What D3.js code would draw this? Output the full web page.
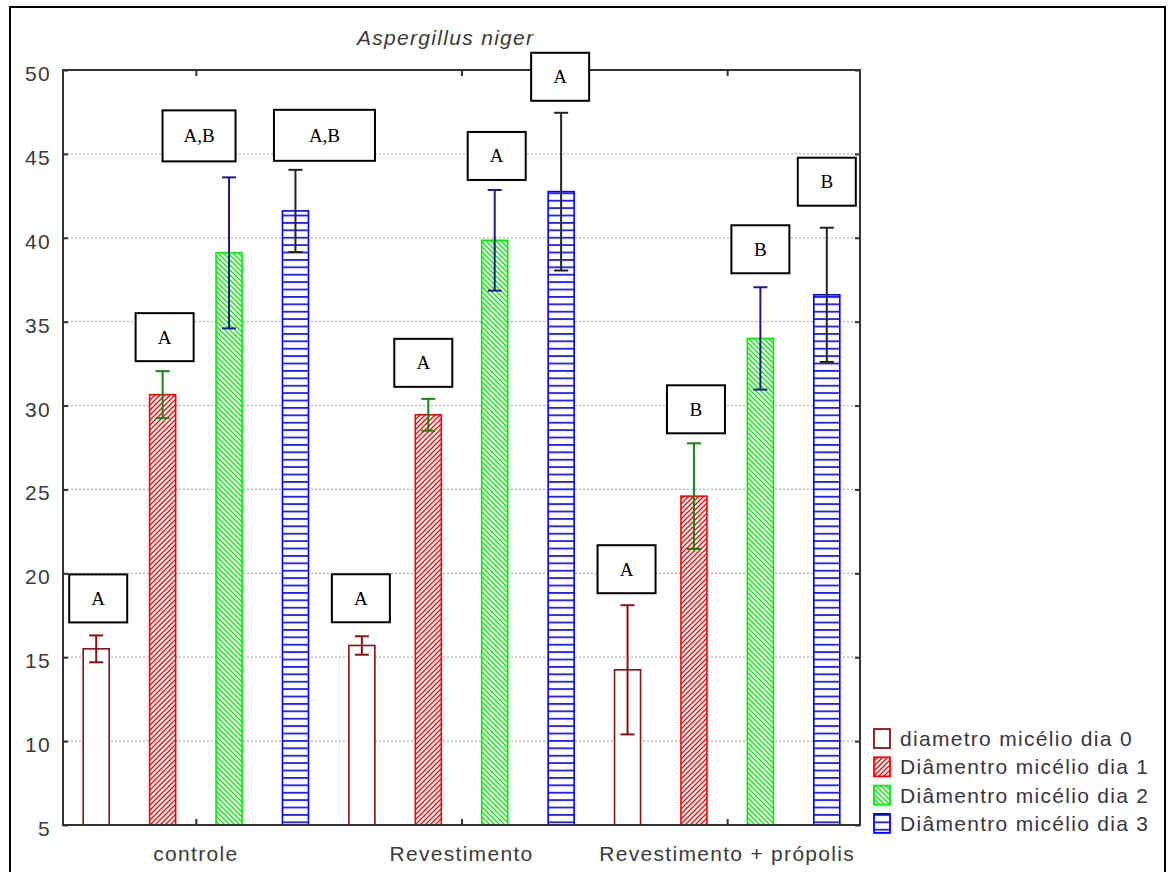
<!DOCTYPE html>
<html>
<head>
<meta charset="utf-8">
<script src="https://cdn.jsdelivr.net/npm/d3@7"></script>
<style>
  html, body { margin: 0; padding: 0; background: #fff; }
  svg { display: block; }
  .sans { font-family: "Liberation Sans", Arial, sans-serif; letter-spacing: 1.3px; }
</style>
</head>
<body>
<svg id="chart" width="1170" height="872"></svg>
<script>
// Mycelium diameter (mean ± deviation) by treatment and day
const categories = ["controle", "Revestimento", "Revestimento + própolis"];
const seriesNames = ["diametro micélio dia 0", "Diâmentro micélio dia 1", "Diâmentro micélio dia 2", "Diâmentro micélio dia 3"];

const dia0 = [15.5, 15.7, 14.25];
const dia1 = [30.65, 29.45, 24.6];
const dia2 = [39.1, 39.85, 34.0];
const dia3 = [41.6, 42.75, 36.6];

const err0 = [0.8, 0.55, 3.85];
const err1 = [1.4, 0.95, 3.15];
const err2 = [4.5, 3.0, 3.05];
const err3 = [2.45, 4.7, 4.0];

// significance letters per bar
const letters0 = ["A", "A", "A"];
const letters1 = ["A", "A", "B"];
const letters2 = ["A,B", "A", "B"];
const letters3 = ["A,B", "A", "B"];

const yTicks = [5, 10, 15, 20, 25, 30, 35, 40, 45, 50];
const titleText = "Aspergillus niger";

// ---- styling / layout ----
const seriesValues = [dia0, dia1, dia2, dia3];
const seriesErrors = [err0, err1, err2, err3];
const seriesLetters = [letters0, letters1, letters2, letters3];
const strokeColors = ["#8b1010", "#ff0000", "#00ee00", "#0000ff"];
const errorColors = ["#8b1010", "#118811", "#1a1a8a", "#222222"];
const fills = ["#ffffff", "url(#hatchRed)", "url(#hatchGreen)", "url(#hatchBlue)"];

// letter-box placement: [dx from bar centre, gap above error cap, box width], per series then category
const boxLayout = [
  [[2, 13, 58], [-1, 14, 58], [-1, 12, 58]],
  [[2, 10, 58], [-5, 12, 58], [2, 10, 58]],
  [[-30, 16, 73], [2, 10, 58], [0, 14, 58]],
  [[29, 9, 101], [-1, 12, 58], [0, 22, 58]]
];

const plot = { left: 63, right: 860, top: 70, bottom: 825 };
const svg = d3.select("#chart");

// patterns
const defs = svg.append("defs");
function hatch(id, color, dir) {
  const p = defs.append("pattern").attr("id", id)
    .attr("patternUnits", "userSpaceOnUse").attr("width", 5).attr("height", 5);
  p.append("rect").attr("width", 5).attr("height", 5).attr("fill", "#fff");
  const lines = dir > 0
    ? [[0, 5, 5, 0], [-1, 1, 1, -1], [4, 6, 6, 4]]
    : [[0, 0, 5, 5], [-1, 4, 1, 6], [4, -1, 6, 1]];
  lines.forEach(l => p.append("line").attr("x1", l[0]).attr("y1", l[1]).attr("x2", l[2]).attr("y2", l[3])
    .attr("stroke", color).attr("stroke-width", 1.3));
}
hatch("hatchRed", "#ff0000", 1);
hatch("hatchGreen", "#00ee00", -1);
const pb = defs.append("pattern").attr("id", "hatchBlue")
  .attr("patternUnits", "userSpaceOnUse").attr("width", 10).attr("height", 7.4);
pb.append("rect").attr("width", 10).attr("height", 7.4).attr("fill", "#fff");
pb.append("line").attr("x1", 0).attr("x2", 10).attr("y1", 0.9).attr("y2", 0.9)
  .attr("stroke", "#0000ff").attr("stroke-width", 1.6);

// outer frame
svg.append("rect").attr("x", 10).attr("y", 7).attr("width", 1155).attr("height", 880)
  .attr("fill", "none").attr("stroke", "#000").attr("stroke-width", 2);

// scales
const x0 = d3.scaleBand().domain(categories).range([plot.left, plot.right]).padding(0);
const x1 = d3.scaleBand().domain(d3.range(4)).range([0, x0.bandwidth()]).padding(0);
const y = d3.scaleLinear().domain([5, 50]).range([plot.bottom, plot.top]);
const barW = 26;

// grid
svg.append("g").selectAll("line").data(yTicks.filter(t => t > 5 && t < 50)).join("line")
  .attr("x1", plot.left).attr("x2", plot.right)
  .attr("y1", d => y(d)).attr("y2", d => y(d))
  .attr("stroke", "#b4b4b4").attr("stroke-width", 1.3).attr("stroke-dasharray", "2,2");

// bars
const bars = [];
seriesValues.forEach((vals, s) => vals.forEach((v, c) => bars.push({
  s, c, v, e: seriesErrors[s][c], letter: seriesLetters[s][c],
  cx: x0(categories[c]) + x1(s) + x1.bandwidth() / 2
})));

svg.append("g").selectAll("rect").data(bars).join("rect")
  .attr("x", d => d.cx - barW / 2).attr("width", barW)
  .attr("y", d => y(d.v)).attr("height", d => y(5) - y(d.v))
  .attr("fill", d => fills[d.s]).attr("stroke", d => strokeColors[d.s]).attr("stroke-width", 1.6);

// axes frame with inward ticks
const axisColor = "#333";
const leftAxis = d3.axisLeft(y).tickValues(yTicks).tickSize(-5).tickFormat("");
const rightAxis = d3.axisRight(y).tickValues(yTicks).tickSize(-5).tickFormat("");
const catCenter = d => x0(d) + x0.bandwidth() / 2;
const xPos = d3.scalePoint().domain(categories).range([catCenter(categories[0]), catCenter(categories[2])]);
const bottomAxis = d3.axisBottom(xPos).tickSize(-6).tickFormat("");
const topAxis = d3.axisTop(xPos).tickSize(-6).tickFormat("");
function styleAxis(g) {
  g.selectAll("path,line").attr("stroke", axisColor).attr("stroke-width", 2);
  g.select(".domain").attr("d", null);
}
svg.append("g").attr("transform", `translate(${plot.left},0)`).call(leftAxis).call(styleAxis);
svg.append("g").attr("transform", `translate(${plot.right},0)`).call(rightAxis).call(styleAxis);
svg.append("g").attr("transform", `translate(0,${plot.bottom})`).call(bottomAxis).call(styleAxis);
svg.append("g").attr("transform", `translate(0,${plot.top})`).call(topAxis).call(styleAxis);
svg.append("rect").attr("x", plot.left).attr("y", plot.top)
  .attr("width", plot.right - plot.left).attr("height", plot.bottom - plot.top)
  .attr("fill", "none").attr("stroke", axisColor).attr("stroke-width", 2);

// y tick labels
svg.append("g").selectAll("text").data(yTicks).join("text")
  .attr("class", "sans").attr("x", 51).attr("y", d => y(d) + 11)
  .attr("text-anchor", "end").attr("font-size", 21).attr("fill", "#3a3a3a")
  .text(d => d);

// category labels
svg.append("g").selectAll("text").data(categories).join("text")
  .attr("class", "sans").attr("x", d => catCenter(d)).attr("y", 861)
  .attr("text-anchor", "middle").attr("font-size", 21).attr("fill", "#3a3a3a")
  .text(d => d);

// title
svg.append("text").attr("class", "sans").attr("x", 357).attr("y", 45)
  .attr("font-size", 21).attr("font-style", "italic").attr("fill", "#3a3a3a")
  .text(titleText);

// error bars
const eg = svg.append("g");
bars.forEach(d => {
  const col = errorColors[d.s];
  const yt = y(d.v + d.e), yb = y(d.v - d.e);
  eg.append("line").attr("x1", d.cx).attr("x2", d.cx).attr("y1", yt).attr("y2", yb)
    .attr("stroke", col).attr("stroke-width", 2);
  [yt, yb].forEach(yy => eg.append("line").attr("x1", d.cx - 7).attr("x2", d.cx + 7)
    .attr("y1", yy).attr("y2", yy).attr("stroke", col).attr("stroke-width", 2));
});

// letter boxes
const bg = svg.append("g");
bars.forEach(d => {
  const [dx, gap, w] = boxLayout[d.s][d.c];
  const h = d.letter.length > 1 ? 51 : 48;
  const bottom = y(d.v + d.e) - gap;
  const cx = d.cx + dx;
  bg.append("rect").attr("x", cx - w / 2).attr("y", bottom - h).attr("width", w).attr("height", h)
    .attr("fill", "#fff").attr("stroke", "#000").attr("stroke-width", 2);
  bg.append("text").attr("x", cx).attr("y", bottom - h / 2 + 6.5)
    .attr("text-anchor", "middle").attr("font-family", "'Liberation Serif', 'Times New Roman', serif")
    .attr("font-size", 19).attr("fill", "#000").text(d.letter);
});

// legend
const lg = svg.append("g");
seriesNames.forEach((name, i) => {
  const yy = 728 + i * 28.3;
  lg.append("rect").attr("x", 874).attr("y", yy + 1).attr("width", 16).attr("height", 19)
    .attr("fill", fills[i]).attr("stroke", strokeColors[i]).attr("stroke-width", 1.8);
  lg.append("text").attr("class", "sans").attr("x", 900).attr("y", yy + 18)
    .attr("font-size", 21).attr("fill", "#3a3440").text(name);
});
</script>
</body>
</html>
